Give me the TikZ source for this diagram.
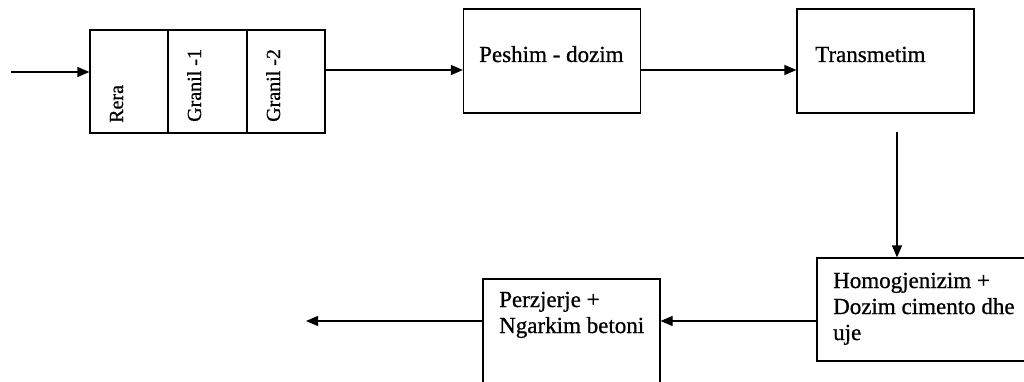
\documentclass[tikz,border=0pt]{standalone}
\usepackage{fontspec}
\setmainfont{Liberation Serif}[FakeBold=0.8]
\usetikzlibrary{arrows.meta}

\tikzset{
  box/.style={draw, line width=1.2pt, inner sep=0pt},
  lbl/.style={anchor=base west, inner sep=0pt, align=left, font=\fontsize{23}{26}\selectfont},
  vlbl/.style={anchor=base west, inner sep=0pt, rotate=90, font=\fontsize{20}{24}\selectfont},
  flow/.style={line width=1.2pt, -{Triangle[length=12pt,width=10pt]}}
}

\begin{document}
\begin{tikzpicture}[x=1pt, y=-1pt]

\useasboundingbox (0,0) rectangle (1024,382);
\clip (0,0) rectangle (1024,382);

\node [box, minimum width=78pt, minimum height=103pt] (rera) at (129,81.5) {};
\node [box, minimum width=79pt, minimum height=103pt] (granilA) at (207.5,81.5) {};
\node [box, minimum width=78pt, minimum height=103pt] (granilB) at (286,81.5) {};
\node [vlbl] (reraText) at (123,123) {Rera};
\node [vlbl] (granilAText) at (201,122) {Granil -1};
\node [vlbl] (granilBText) at (280,122) {Granil -2};

\node [box, minimum width=177pt, minimum height=104pt] (peshim) at (552,61) {};
\node [lbl] (peshimText) at (479,62) {Peshim - dozim};

\node [box, minimum width=177pt, minimum height=104pt] (transmetim) at (885.5,61) {};
\node [lbl] (transmetimText) at (815,62) {Transmetim};

\node [box, minimum width=223pt, minimum height=103pt] (homog) at (928.5,309.5) {};
\node [lbl] (homogText) at (833,340) {Homogjenizim +\\Dozim cimento dhe\\uje};

\node [box, minimum width=177pt, minimum height=116pt] (perzjerje) at (571.5,337) {};
\node [lbl] (perzjerjeText) at (499,333) {Perzjerje +\\Ngarkim betoni};

\coordinate (src) at (11,72);
\coordinate (rowA) at (0,70);
\coordinate (drop) at (897,132);
\coordinate (rowB) at (0,321);
\coordinate (sink) at (306,321);

\draw [flow] (src) -- (rera.west |- src);
\draw [flow] (granilB.east |- rowA) -- (peshim.west |- rowA);
\draw [flow] (peshim.east |- rowA) -- (transmetim.west |- rowA);
\draw [flow] (drop) -- (homog.north -| drop);
\draw [flow] (homog.west |- rowB) -- (perzjerje.east |- rowB);
\draw [flow] (perzjerje.west |- rowB) -- (sink);

\end{tikzpicture}
\end{document}
